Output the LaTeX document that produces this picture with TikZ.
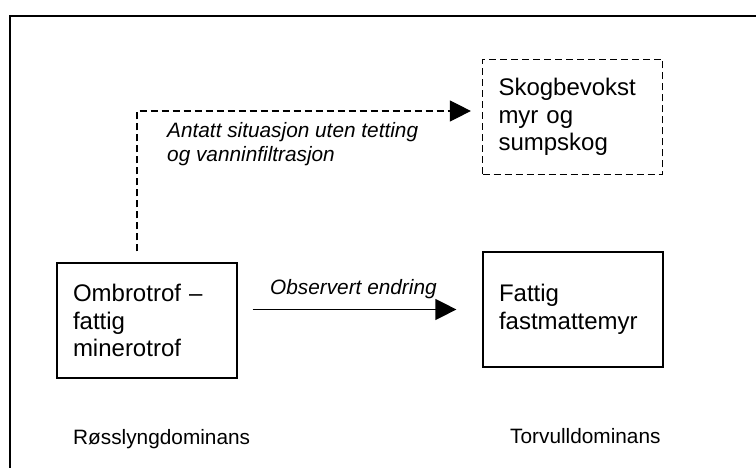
\documentclass[tikz,border=0pt]{standalone}
\usepackage{fontspec}
\setmainfont{Liberation Sans}
\usetikzlibrary{arrows.meta}
\begin{document}
\begin{tikzpicture}[x=1pt,y=1pt,
  boxtext/.style={font=\fontsize{24}{27.5}\selectfont},
  statebox/.style={draw,line width=1.2pt,rectangle,minimum width=180pt,minimum height=115pt,
    inner sep=0pt,text width=148pt,align=left,boxtext},
  dashbox/.style={statebox,dash pattern=on 7pt off 4pt},
  flow/.style={line width=1.2pt,-{Triangle[length=21pt,width=21pt]}},
  note/.style={font=\fontsize{20.8}{23.5}\selectfont\itshape,inner sep=0pt,align=left},
  caption/.style={font=\fontsize{20.8}{24}\selectfont,inner sep=0pt}]
\useasboundingbox (0,0) rectangle (756,468);
% frame
\draw[line width=1.8pt] (10,0) -- (10,452) -- (756,452);
% states
\node[statebox] (ombro) at (147,147.5) {Ombrotrof --\\fattig\\minerotrof};
\node[statebox] (fattig) at (573,158.5) {Fattig\\fastmattemyr};
\node[dashbox] (skog) at (572.5,351) {Skogbevokst\\myr og\\sumpskog};
% transitions
\draw[flow] ([xshift=-10pt,yshift=11pt]ombro.north) |- ([yshift=6pt]skog.west)
  [dash pattern=on 7pt off 4pt] [shorten >=11pt];
\draw[flow,shorten <=15pt,shorten >=26pt] (ombro.east |- fattig.west) -- (fattig.west);
% labels (base of a multi-line node is its last line)
\node[note,anchor=base west] (obs) at (270,173) {Observert endring};
\node[note,anchor=base west] (ant) at (167,306.5) {Antatt situasjon uten tetting\\og vanninfiltrasjon};
\node[caption,anchor=base west] (ross) at (73,23) {Røsslyngdominans};
\node[caption,anchor=base west] (torv) at (510,24) {Torvulldominans};
\end{tikzpicture}
\end{document}
